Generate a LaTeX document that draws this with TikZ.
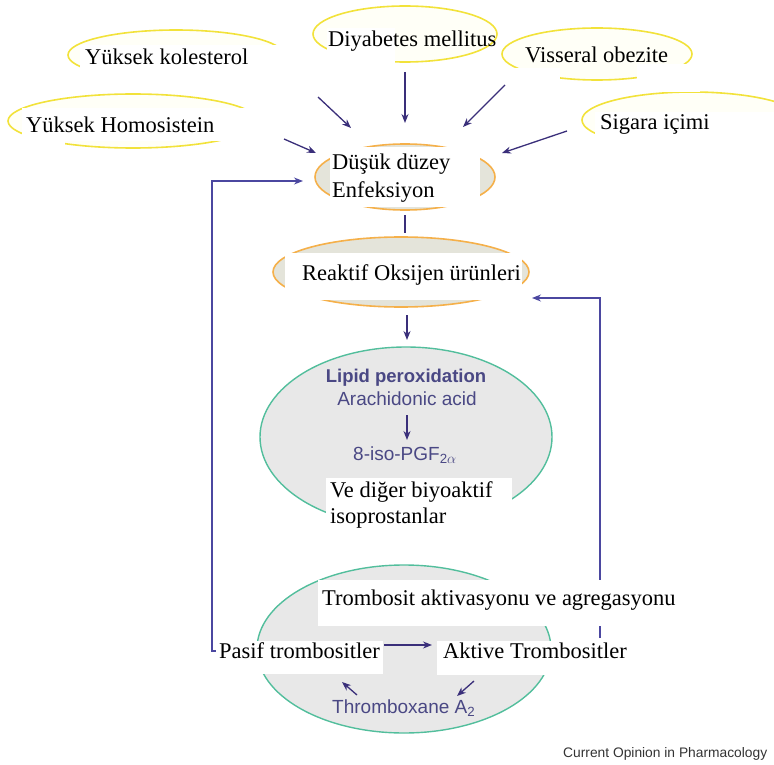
\documentclass[tikz,border=0pt]{standalone}
\usepackage{fontspec}
\setmainfont{Liberation Serif}
\setsansfont{Liberation Sans}
\usetikzlibrary{shapes.geometric,arrows.meta}
\definecolor{yel}{HTML}{F2E23A}
\definecolor{org}{HTML}{F5B04A}
\definecolor{tealg}{HTML}{52BE9C}
\definecolor{arr}{HTML}{3A2F7A}
\definecolor{loopc}{HTML}{4B47A0}
\definecolor{sanst}{HTML}{4A4884}
\definecolor{lgray}{HTML}{E8E8E8}
\definecolor{lbeige}{HTML}{E4E4DA}
\begin{document}
\begin{tikzpicture}[x=1pt,y=-1pt,
  yell/.style={ellipse, draw=yel, line width=1.6pt, fill=yellow!3, inner sep=0},
  oell/.style={ellipse, draw=org, line width=1.6pt, fill=lbeige, inner sep=0},
  gell/.style={ellipse, draw=tealg, line width=1.4pt, fill=lgray, inner sep=0},
  mask/.style={fill=white},
  tx/.style={font=\fontsize{22.5}{27}\selectfont, inner sep=0pt, anchor=base west},
  sx/.style={font=\sffamily\fontsize{19}{22}\selectfont, text=sanst, inner sep=0pt},
  arrow/.style={-{Stealth[length=9pt,width=7pt]}, draw=arr, line width=1.3pt},
  loopline/.style={-{Stealth[length=9pt,width=7pt]}, draw=loopc, line width=1.2pt}]
\useasboundingbox (0,0) rectangle (774,765);

% ellipses
\node[yell, minimum width=216pt, minimum height=50pt] (kolE) at (176,55) {};
\node[yell, minimum width=184pt, minimum height=56pt] (diyE) at (405,34) {};
\node[yell, minimum width=190pt, minimum height=52pt] (visE) at (597,54) {};
\node[yell, minimum width=250pt, minimum height=54pt] (homE) at (133,121) {};
\node[yell, minimum width=220pt, minimum height=56pt] (sigE) at (692,120) {};
\node[oell, minimum width=180pt, minimum height=66pt] (dusE) at (405,177) {};
\node[oell, minimum width=256pt, minimum height=70pt] (reaE) at (401,272) {};
\node[gell, minimum width=292pt, minimum height=180pt] (lipE) at (406,437) {};
\node[gell, minimum width=294pt, minimum height=168pt] (troE) at (404,649) {};

% arrow endpoints
\coordinate (a1) at (318,97);  \coordinate (b1) at (351,128);
\coordinate (a2) at (284,139); \coordinate (b2) at (316,153);
\coordinate (a3) at (405,72);  \coordinate (b3) at (405,123);
\coordinate (a4) at (505,85);  \coordinate (b4) at (463,127);
\coordinate (a5) at (567,131); \coordinate (b5) at (502,153);
\coordinate (a6) at (405,215); \coordinate (b6) at (405,233);
\coordinate (a7) at (407,315); \coordinate (b7) at (407,340);
\coordinate (a8) at (407,415); \coordinate (b8) at (407,440);
\coordinate (a9) at (384,645); \coordinate (b9) at (432,645);
\coordinate (c1) at (357,695); \coordinate (d1) at (342,682);
\coordinate (c2) at (474,681); \coordinate (d2) at (457,696);
\coordinate (l0) at (218,651); \coordinate (l1) at (212,651); \coordinate (l2) at (212,181); \coordinate (l3) at (303,181);
\coordinate (r0) at (600,638); \coordinate (r1) at (600,298); \coordinate (r2) at (532,298);

\draw[loopline] (l0) -- (l1) -- (l2) -- (l3);
\draw[loopline] (r0) -- (r1) -- (r2);

% white text backgrounds that hide parts of the ellipses
\fill[mask] (80,45) rectangle (300,90);
\fill[mask] (327,28) rectangle (395,68);
\fill[mask] (510,68) rectangle (560,92);
\fill[mask] (637,64) rectangle (700,92);
\fill[mask] (595,112) rectangle (774,156);
\fill[mask] (22,108) rectangle (270,141);
\fill[mask] (10,135) rectangle (65,152);
\fill[mask] (330,147) rectangle (480,207);
\fill[mask] (285,253) rectangle (522,300);
\fill[mask] (326,478) rectangle (512,533);
\fill[mask] (318,580) rectangle (680,626);
\fill[mask] (216,641) rectangle (383,674);
\fill[mask] (437,641) rectangle (630,675);

% texts
\node[tx] (kol) at (85,65) {Yüksek kolesterol};
\node[tx] (diy) at (328,47) {Diyabetes mellitus};
\node[tx] (vis) at (525,63) {Visseral obezite};
\node[tx] (hom) at (26,133) {Yüksek Homosistein};
\node[tx] (sig) at (600,130) {Sigara içimi};
\node[tx] (dus1) at (332,170) {Düşük düzey};
\node[tx] (dus2) at (332,197) {Enfeksiyon};
\node[tx] (rea) at (302,280) {Reaktif Oksijen ürünleri};
\node[tx] (ved1) at (330,497) {Ve diğer biyoaktif};
\node[tx] (ved2) at (330,523) {isoprostanlar};
\node[tx] (tra) at (322,605) {Trombosit aktivasyonu ve agregasyonu};
\node[tx] (pas) at (219,658) {Pasif trombositler};
\node[tx] (akt) at (443,658) {Aktive Trombositler};

\node[sx, font=\sffamily\bfseries\fontsize{18.5}{22}\selectfont, anchor=base] (lip) at (406,382) {Lipid peroxidation};
\node[sx, anchor=base] (ara) at (407,405) {Arachidonic acid};
\node[sx, anchor=base west] (iso) at (353,460) {8-iso-PGF$_{\mathsf{2\alpha}}$};
\node[sx, anchor=base west] (thx) at (332,713) {Thromboxane A$_{\mathsf{2}}$};
\node[font=\sffamily\fontsize{13.8}{16}\selectfont, text=black!80, anchor=base west, inner sep=0pt] (cur) at (563,757) {Current Opinion in Pharmacology};

\draw[arrow] (a1) -- (b1);
\draw[arrow] (a2) -- (b2);
\draw[arrow] (a3) -- (b3);
\draw[arrow] (a4) -- (b4);
\draw[arrow] (a5) -- (b5);
\draw[draw=arr, line width=1.3pt] (a6) -- (b6);
\draw[arrow] (a7) -- (b7);
\draw[arrow] (a8) -- (b8);
\draw[arrow] (a9) -- (b9);
\draw[arrow] (c1) -- (d1);
\draw[arrow] (c2) -- (d2);
\end{tikzpicture}
\end{document}
